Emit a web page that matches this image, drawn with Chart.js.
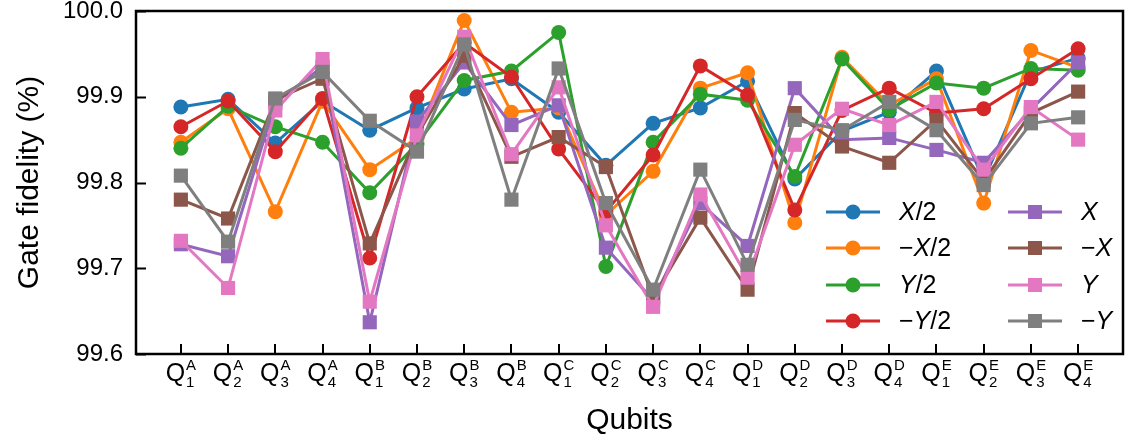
<!DOCTYPE html>
<html>
<head>
<meta charset="utf-8">
<script src="https://cdn.jsdelivr.net/npm/chart.js@4/dist/chart.umd.min.js"></script>
<style>
  html, body { margin: 0; padding: 0; background: #fff; }
  #wrap { width: 1133px; height: 444px; }
</style>
</head>
<body>
<div id="wrap"><canvas id="chart" width="1133" height="444"></canvas></div>
<script>
// qubit labels: Q_index^chip
const qubitIndex = [1, 2, 3, 4, 1, 2, 3, 4, 1, 2, 3, 4, 1, 2, 3, 4, 1, 2, 3, 4];
const qubitChip = ['A', 'A', 'A', 'A', 'B', 'B', 'B', 'B', 'C', 'C', 'C', 'C', 'D', 'D', 'D', 'D', 'E', 'E', 'E', 'E'];

const yTicks = [99.6, 99.7, 99.8, 99.9, 100.0];

// gate fidelities (%)
const xHalf    = [99.888, 99.897, 99.846, 99.895, 99.861, 99.887, 99.909, 99.921, 99.882, 99.820, 99.869, 99.887, 99.918, 99.804, 99.860, 99.882, 99.930, 99.803, 99.929, 99.945];
const negXHalf = [99.847, 99.886, 99.766, 99.895, 99.815, 99.852, 99.989, 99.882, 99.887, 99.762, 99.813, 99.910, 99.928, 99.753, 99.946, 99.890, 99.921, 99.776, 99.954, 99.934];
const yHalf    = [99.840, 99.889, 99.865, 99.847, 99.788, 99.845, 99.919, 99.930, 99.975, 99.702, 99.847, 99.903, 99.896, 99.807, 99.944, 99.885, 99.916, 99.910, 99.933, 99.931];
const negYHalf = [99.865, 99.895, 99.836, 99.898, 99.712, 99.900, 99.963, 99.923, 99.839, 99.766, 99.832, 99.936, 99.902, 99.768, 99.884, 99.910, 99.881, 99.886, 99.921, 99.956];
const xFull    = [99.728, 99.714, 99.893, 99.935, 99.637, 99.871, 99.940, 99.867, 99.890, 99.724, 99.663, 99.776, 99.726, 99.910, 99.850, 99.852, 99.838, 99.823, 99.885, 99.940];
const negXFull = [99.780, 99.758, 99.897, 99.921, 99.729, 99.855, 99.948, 99.830, 99.853, 99.818, 99.666, 99.759, 99.675, 99.881, 99.842, 99.823, 99.873, 99.802, 99.881, 99.906];
const yFull    = [99.732, 99.677, 99.884, 99.944, 99.661, 99.855, 99.970, 99.833, 99.911, 99.750, 99.655, 99.786, 99.689, 99.844, 99.886, 99.867, 99.894, 99.815, 99.888, 99.850];
const negYFull = [99.808, 99.731, 99.898, 99.929, 99.872, 99.836, 99.961, 99.780, 99.933, 99.776, 99.675, 99.815, 99.704, 99.873, 99.861, 99.894, 99.861, 99.797, 99.869, 99.876];

const seriesNames = ['X/2', '−X/2', 'Y/2', '−Y/2', 'X', '−X', 'Y', '−Y'];
const seriesData = [xHalf, negXHalf, yHalf, negYHalf, xFull, negXFull, yFull, negYFull];
const colors = ['#1f77b4', '#ff7f0e', '#2ca02c', '#d62728', '#9467bd', '#8c564b', '#e377c2', '#7f7f7f'];

const FONT = "'Liberation Sans', Arial, Helvetica, sans-serif";

const datasets = seriesData.map((vals, i) => {
  const square = i >= 4;
  return {
    label: seriesNames[i],
    data: vals.map((v, k) => ({ x: k, y: v })),
    borderColor: colors[i],
    backgroundColor: colors[i],
    borderWidth: 3,
    pointStyle: square ? 'rect' : 'circle',
    pointRadius: square ? 10 : 7.5,
    pointBorderWidth: 0,
    pointBackgroundColor: colors[i],
    tension: 0,
    order: 7 - i  // later series drawn on top, like matplotlib
  };
});

// draws "−X/2" style labels: minus and digits upright, letter italic
function drawMathLabel(ctx, text, x, y, size) {
  ctx.textBaseline = 'middle';
  ctx.textAlign = 'left';
  let cx = x;
  const parts = text.match(/(−)?([XY])(.*)/);
  if (parts[1]) {
    ctx.font = `${size}px ${FONT}`;
    ctx.fillText('−', cx, y);
    cx += ctx.measureText('−').width;
  }
  ctx.font = `italic ${size}px ${FONT}`;
  ctx.fillText(parts[2], cx, y);
  cx += ctx.measureText(parts[2]).width;
  if (parts[3]) {
    ctx.font = `${size}px ${FONT}`;
    ctx.fillText(parts[3], cx, y);
  }
}

const decorations = {
  id: 'decorations',
  afterDraw(chart) {
    const { ctx, chartArea: a, scales } = chart;
    const xs = scales.x, ys = scales.y;
    ctx.save();

    // frame
    ctx.strokeStyle = '#000';
    ctx.lineWidth = 2.5;
    ctx.strokeRect(a.left, a.top, a.right - a.left, a.bottom - a.top);

    // inward ticks
    ctx.lineWidth = 2;
    ctx.beginPath();
    yTicks.forEach(t => {
      const py = Math.round(ys.getPixelForValue(t)) + 0.5;
      ctx.moveTo(a.left, py);
      ctx.lineTo(a.left + 10, py);
    });
    qubitIndex.forEach((_, k) => {
      const px = Math.round(xs.getPixelForValue(k));
      ctx.moveTo(px, a.bottom);
      ctx.lineTo(px, a.bottom - 10);
    });
    ctx.stroke();

    // x tick labels Q_n^chip
    ctx.fillStyle = '#000';
    ctx.textBaseline = 'alphabetic';
    qubitIndex.forEach((n, k) => {
      const px = xs.getPixelForValue(k);
      ctx.font = `25px ${FONT}`;
      const qw = ctx.measureText('Q').width;
      ctx.font = `15px ${FONT}`;
      const sw = Math.max(ctx.measureText(String(n)).width, ctx.measureText(qubitChip[k]).width);
      const x0 = px - (qw + 1 + sw) / 2;
      ctx.font = `25px ${FONT}`;
      ctx.textAlign = 'left';
      ctx.fillText('Q', x0, a.bottom + 27);
      ctx.font = `15px ${FONT}`;
      ctx.fillText(qubitChip[k], x0 + qw + 1, a.bottom + 16);
      ctx.fillText(String(n), x0 + qw + 1, a.bottom + 33);
    });

    // axis titles
    ctx.font = `30px ${FONT}`;
    ctx.textAlign = 'center';
    ctx.textBaseline = 'middle';
    ctx.fillText('Qubits', (a.left + a.right) / 2, 421);
    ctx.save();
    ctx.translate(30, (a.top + a.bottom) / 2);
    ctx.rotate(-Math.PI / 2);
    ctx.fillText('Gate fidelity (%)', 0, 0);
    ctx.restore();

    // two-column legend
    const rows = [212, 248, 285, 321];
    const cols = [826, 1008];
    chart.data.datasets.forEach((ds, i) => {
      const c = Math.floor(i / 4), r = i % 4;
      const lx = cols[c], ly = rows[r];
      ctx.strokeStyle = ds.borderColor;
      ctx.lineWidth = 3;
      ctx.beginPath();
      ctx.moveTo(lx, ly);
      ctx.lineTo(lx + 54, ly);
      ctx.stroke();
      ctx.fillStyle = ds.borderColor;
      if (ds.pointStyle === 'rect') {
        ctx.fillRect(lx + 27 - 7, ly - 7, 14, 14);
      } else {
        ctx.beginPath();
        ctx.arc(lx + 27, ly, 7.5, 0, Math.PI * 2);
        ctx.fill();
      }
      ctx.fillStyle = '#000';
      drawMathLabel(ctx, ds.label, lx + 73, ly + 1, 25);
    });

    ctx.restore();
  }
};

new Chart(document.getElementById('chart'), {
  type: 'line',
  data: { datasets },
  options: {
    responsive: false,
    animation: false,
    devicePixelRatio: 1,
    layout: { padding: { left: 0, top: 11, right: 3, bottom: 0 } },
    plugins: {
      legend: { display: false },
      tooltip: { enabled: false }
    },
    scales: {
      x: {
        type: 'linear',
        min: -0.95,
        max: 19.95,
        grid: { display: false, drawTicks: false, tickLength: 0 },
        border: { display: false },
        ticks: { display: false },
        afterFit(scale) {
          scale.height = 90;
          scale.paddingLeft = 0;
          scale.paddingRight = 0;
        }
      },
      y: {
        min: 99.6,
        max: 100.0,
        grid: { display: false, drawTicks: false, tickLength: 0 },
        border: { display: false },
        afterBuildTicks(scale) { scale.ticks = yTicks.map(v => ({ value: v })); },
        ticks: {
          padding: 13,
          color: '#000',
          font: { family: FONT, size: 24 },
          callback: v => v.toFixed(1)
        },
        afterFit(scale) {
          scale.width = 136;
          scale.paddingTop = 0;
          scale.paddingBottom = 0;
        }
      }
    }
  },
  plugins: [decorations]
});
</script>
</body>
</html>
